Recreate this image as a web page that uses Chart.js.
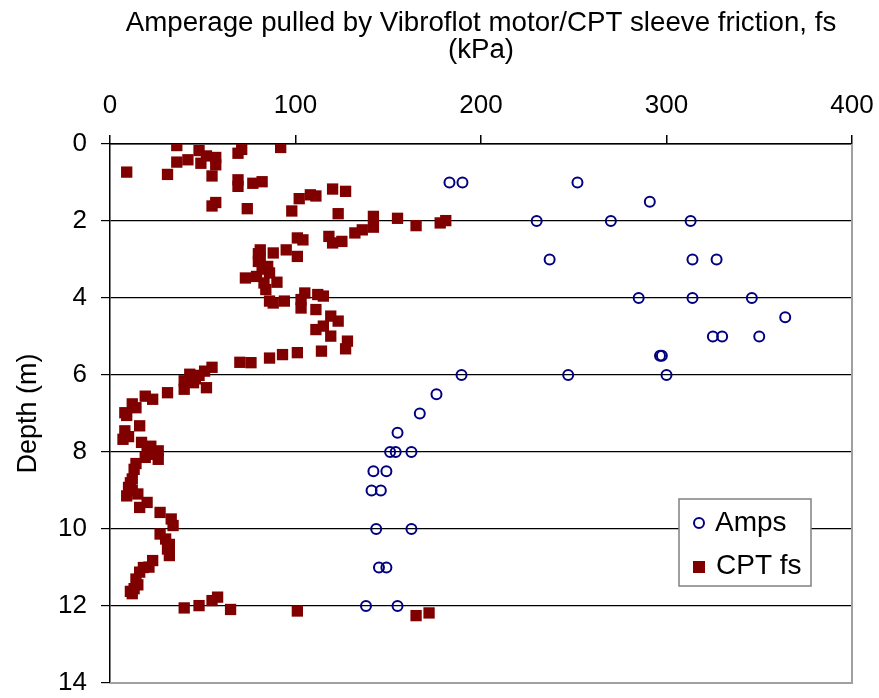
<!DOCTYPE html>
<html>
<head>
<meta charset="utf-8">
<script src="https://cdn.jsdelivr.net/npm/chart.js@4/dist/chart.umd.min.js"></script>
<style>
  html, body { margin: 0; padding: 0; background: #fff; }
  #wrap { width: 879px; height: 698px; }
</style>
</head>
<body>
<div id="wrap"><canvas id="c" width="879" height="698"></canvas></div>
<script>
// ---- data ----
const titleLines = ['Amperage pulled by Vibroflot motor/CPT sleeve friction, fs', '(kPa)'];
const yTitle = 'Depth (m)';
const seriesNames = ['Amps', 'CPT fs'];
const xTicks = [0, 100, 200, 300, 400];
const yTicks = [0, 2, 4, 6, 8, 10, 12, 14];

const ampsValue = [183, 190, 252, 291, 230, 270, 313, 237, 314, 327, 285, 314, 346, 364, 325, 330, 350, 296.5, 297.5, 189.5, 247, 300, 176, 167, 155, 151, 154, 162.5, 142, 149, 141, 146, 143.5, 162.5, 145, 149, 138, 155];
const ampsDepth = [1, 1, 1, 1.5, 2, 2, 2, 3, 3, 3, 4, 4, 4, 4.5, 5, 5, 5, 5.5, 5.5, 6, 6, 6, 6.5, 7, 7.5, 8, 8, 8, 8.5, 8.5, 9, 9, 10, 10, 11, 11, 12, 12];

const cptValue = [36, 92, 71, 69, 48, 52, 57, 42, 36, 49, 57, 9, 31, 55, 69, 69, 77, 82, 120, 127, 108, 102, 111, 57, 55, 74, 98, 123, 142, 155, 165, 178, 181, 142, 136, 132, 118, 125, 120, 101, 104, 95, 101, 81, 88, 80, 85, 73, 79, 83, 90, 84, 86, 94, 105, 103, 112, 115, 88, 103, 111, 119, 123, 111, 115, 119, 128, 127, 114, 101, 93, 86, 76, 70, 55, 51, 48, 43, 52, 45, 40, 31, 23, 19, 14, 8, 16, 8, 7, 17, 20, 26, 24, 26, 19, 13, 12, 10, 9, 15, 20, 16, 27, 33, 34, 27, 30, 31, 32, 23, 21, 16, 14, 13, 12, 40, 48, 55, 58, 65, 101, 165, 172, 9, 12, 10, 22, 14, 11, 12, 32, 18, 15, 11, 82, 86, 81, 80, 46, 40];
const cptDepth = [0.04, 0.09, 0.14, 0.24, 0.17, 0.31, 0.35, 0.41, 0.47, 0.50, 0.54, 0.73, 0.79, 0.83, 0.93, 1.10, 1.02, 0.98, 1.17, 1.23, 1.32, 1.42, 1.35, 1.52, 1.61, 1.68, 1.74, 1.81, 1.88, 1.93, 2.12, 2.05, 1.99, 2.16, 2.23, 2.31, 2.40, 2.53, 2.57, 2.44, 2.49, 2.75, 2.92, 2.75, 2.83, 3.05, 3.18, 3.48, 3.44, 3.61, 3.59, 3.78, 4.08, 4.08, 3.87, 4.04, 3.91, 3.95, 4.13, 4.26, 4.30, 4.47, 4.60, 4.82, 4.73, 4.99, 5.12, 5.32, 5.38, 5.42, 5.47, 5.56, 5.68, 5.67, 5.80, 5.90, 6.01, 5.98, 6.33, 6.20, 6.37, 6.46, 6.63, 6.55, 6.85, 6.98, 7.32, 7.45, 7.67, 7.75, 7.93, 7.97, 8.06, 8.19, 8.14, 8.45, 8.70, 8.92, 9.14, 9.09, 9.31, 9.44, 9.57, 9.74, 9.91, 10.13, 10.26, 10.52, 10.69, 10.82, 10.99, 11.12, 11.30, 11.55, 11.68, 12.05, 11.99, 11.86, 11.77, 12.09, 12.13, 12.25, 12.18, 7.05, 6.75, 7.60, 7.85, 8.30, 8.80, 9.00, 10.40, 11.00, 11.45, 11.62, 3.25, 3.35, 2.95, 2.85, 6.10, 6.15];

// ---- chart ----
const FONT = "'Liberation Sans', Arial, sans-serif";
const ampsColor = '#000080';
const cptColor = '#800000';

const toPoints = (xs, ys) => xs.map((v, i) => ({ x: v, y: ys[i] }));

const frameAndLegend = {
  id: 'frameAndLegend',
  beforeDatasetsDraw(chart) {
    const { ctx, chartArea: a } = chart;
    ctx.save();
    ctx.strokeStyle = '#a0a0a0';
    ctx.lineWidth = 2;
    ctx.beginPath();
    ctx.moveTo(a.right, a.top);
    ctx.lineTo(a.right, a.bottom);
    ctx.lineTo(a.left, a.bottom);
    ctx.stroke();
    ctx.restore();
  },
  afterDraw(chart) {
    const { ctx } = chart;
    const ds = chart.data.datasets;
    ctx.save();
    // legend box
    ctx.fillStyle = '#fff';
    ctx.fillRect(679, 499, 132, 87);
    ctx.strokeStyle = '#808080';
    ctx.lineWidth = 1.5;
    ctx.strokeRect(679, 499, 132, 87);
    // Amps marker
    ctx.strokeStyle = ds[0].borderColor;
    ctx.lineWidth = 2;
    ctx.beginPath();
    ctx.arc(699, 523, 5, 0, Math.PI * 2);
    ctx.stroke();
    // CPT marker
    ctx.fillStyle = ds[1].backgroundColor;
    ctx.fillRect(693, 561, 12, 12);
    ctx.fillStyle = '#000';
    ctx.font = '28px ' + FONT;
    ctx.textBaseline = 'middle';
    ctx.textAlign = 'left';
    ctx.fillText(ds[0].label, 715, 523);
    ctx.fillText(ds[1].label, 716, 566);
    ctx.restore();
  }
};

new Chart(document.getElementById('c'), {
  type: 'scatter',
  data: {
    datasets: [
      {
        label: seriesNames[0],
        data: toPoints(ampsValue, ampsDepth),
        pointStyle: 'circle',
        pointRadius: 5,
        pointBorderWidth: 2,
        borderColor: ampsColor,
        backgroundColor: 'rgba(0,0,0,0)',
        pointBackgroundColor: 'rgba(0,0,0,0)'
      },
      {
        label: seriesNames[1],
        data: toPoints(cptValue, cptDepth),
        pointStyle: 'rect',
        pointRadius: 8,
        pointBorderWidth: 0,
        borderColor: cptColor,
        backgroundColor: cptColor
      }
    ]
  },
  options: {
    responsive: false,
    animation: false,
    events: [],
    layout: { padding: { left: 0, top: 0, right: 27, bottom: 15 } },
    plugins: {
      legend: { display: false },
      tooltip: { enabled: false },
      title: { display: false }
    },
    scales: {
      x: {
        type: 'linear',
        position: 'top',
        min: xTicks[0],
        max: xTicks[xTicks.length - 1],
        afterBuildTicks: (s) => { s.ticks = xTicks.map(v => ({ value: v })); },
        afterFit: (s) => { s.height = 144; s.paddingLeft = 0; s.paddingRight = 0; },
        ticks: { font: { family: FONT, size: 26 }, color: '#000', padding: 14, maxRotation: 0 },
        grid: { drawOnChartArea: false, drawTicks: true, tickLength: 9, tickColor: '#000', lineWidth: 1.5 },
        border: { display: true, color: '#000', width: 1.5 },
        title: {
          display: true,
          text: titleLines,
          font: { family: FONT, size: 27.7, lineHeight: 0.98 },
          color: '#000',
          padding: { top: 10, bottom: 0 }
        }
      },
      y: {
        type: 'linear',
        reverse: true,
        min: yTicks[0],
        max: yTicks[yTicks.length - 1],
        afterBuildTicks: (s) => { s.ticks = yTicks.map(v => ({ value: v })); },
        afterFit: (s) => { s.width = 110; s.paddingTop = 0; s.paddingBottom = 0; },
        ticks: { font: { family: FONT, size: 26 }, color: '#000', padding: 14 },
        grid: {
          color: (c) => (c.tick && c.tick.value === 14) ? 'rgba(0,0,0,0)' : '#000',
          lineWidth: 1.2,
          drawTicks: true,
          tickLength: 9,
          tickColor: '#000'
        },
        border: { display: true, color: '#000', width: 1.5 },
        title: {
          display: true,
          text: yTitle,
          font: { family: FONT, size: 27 },
          color: '#000',
          padding: { top: 12, bottom: 0 }
        }
      }
    }
  },
  plugins: [frameAndLegend]
});
</script>
</body>
</html>
